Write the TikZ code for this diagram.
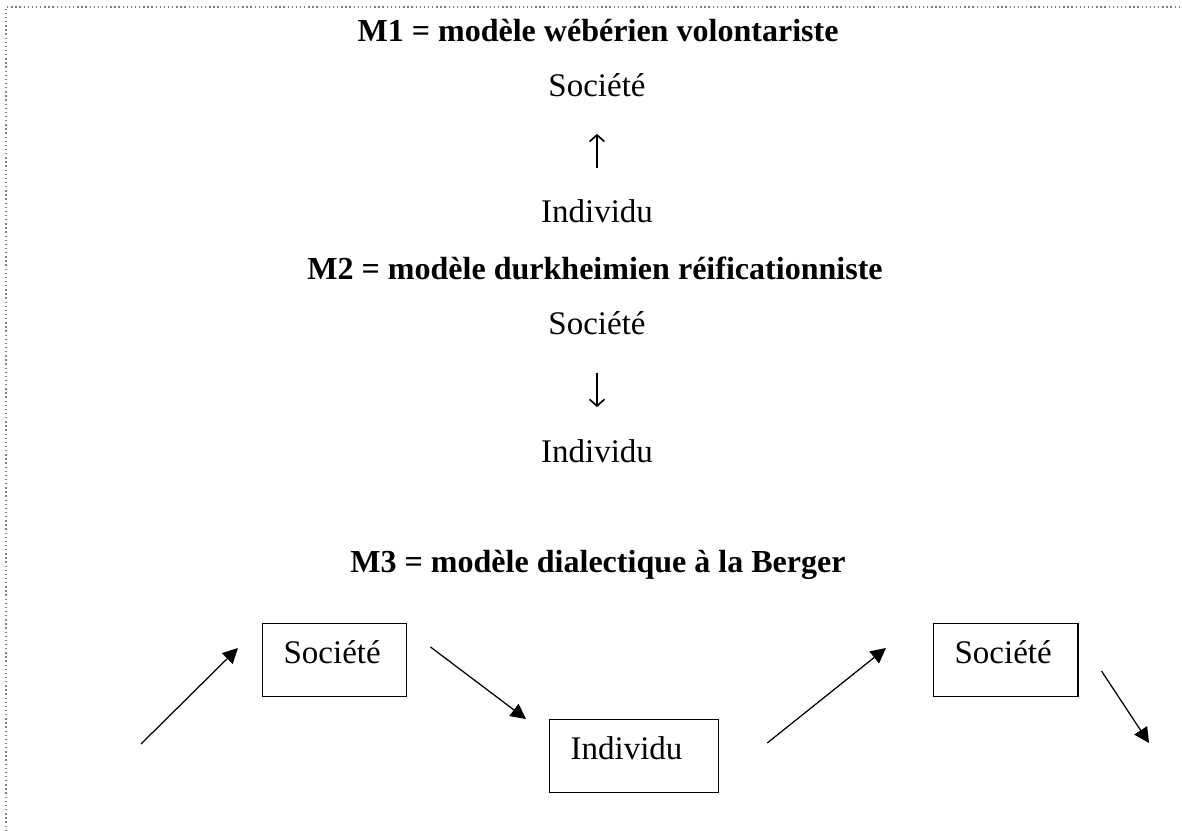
\documentclass[tikz,border=0pt]{standalone}
\usepackage{fontspec}
\setmainfont{Liberation Serif}
\usetikzlibrary{arrows.meta}

\begin{document}
\begin{tikzpicture}[x=0.3636pt,y=-0.3636pt,
        lbl/.style={font=\fontsize{12}{14}\selectfont,inner sep=0pt,anchor=base},
        titre/.style={lbl,font=\fontsize{11.65}{14}\selectfont\bfseries},
        boite/.style={draw,line width=0.5pt,anchor=north west,font=\fontsize{12}{14}\selectfont,
            inner ysep=0pt,inner xsep=7.6pt,align=left,text height=14.5pt,text depth=12pt},
        fleche/.style={-{Triangle[length=5.5pt,width=5.5pt]},line width=0.45pt},
        glyphe/.style={-{Straight Barb[length=2.4pt,width=5.4pt]},line width=0.6pt},
        cadre/.style={gray,densely dotted,line width=0.5pt}]
        \useasboundingbox (0,0) rectangle (1182,831);
        \draw[cadre] (6,831) -- (6,7) -- (1182,7);

        % M1
        \node[titre] (t1) at (598,42) {M1 = modèle wébérien volontariste};
        \node[lbl] (soc1) at (597,97) {Société};
        \node[lbl] (ind1) at (597,223) {Individu};
        \draw[glyphe,shorten <=11.5pt,shorten >=13.1pt] (ind1) -- (soc1);

        % M2
        \node[titre] (t2) at (595,280) {M2 = modèle durkheimien réificationniste};
        \node[lbl] (soc2) at (597,335) {Société};
        \node[lbl] (ind2) at (597,463) {Individu};
        \draw[glyphe,shorten <=13.5pt,shorten >=11.8pt] (soc2) -- (ind2);

        % M3
        \node[titre] (t3) at (598,573) {M3 = modèle dialectique à la Berger};
        \node[boite,text width=37.2pt] (socA) at (262,623) {Société};
        \node[boite,text width=46.2pt] (indA) at (549,719) {Individu};
        \node[boite,text width=37.2pt] (socB) at (933,623) {Société};
        \coordinate (debut) at (141,744);
        \coordinate (fin) at (1149,743);
        \draw[fleche] (debut) -- ([shift={(-24,25)}]socA.north west);
        \draw[fleche] ([shift={(23,24)}]socA.north east) -- ([shift={(-23,0)}]indA.north west);
        \draw[fleche] ([shift={(48,24)}]indA.north east) -- ([shift={(-47,25)}]socB.north west);
        \draw[fleche] ([shift={(23,48)}]socB.north east) -- (fin);
\end{tikzpicture}
\end{document}
